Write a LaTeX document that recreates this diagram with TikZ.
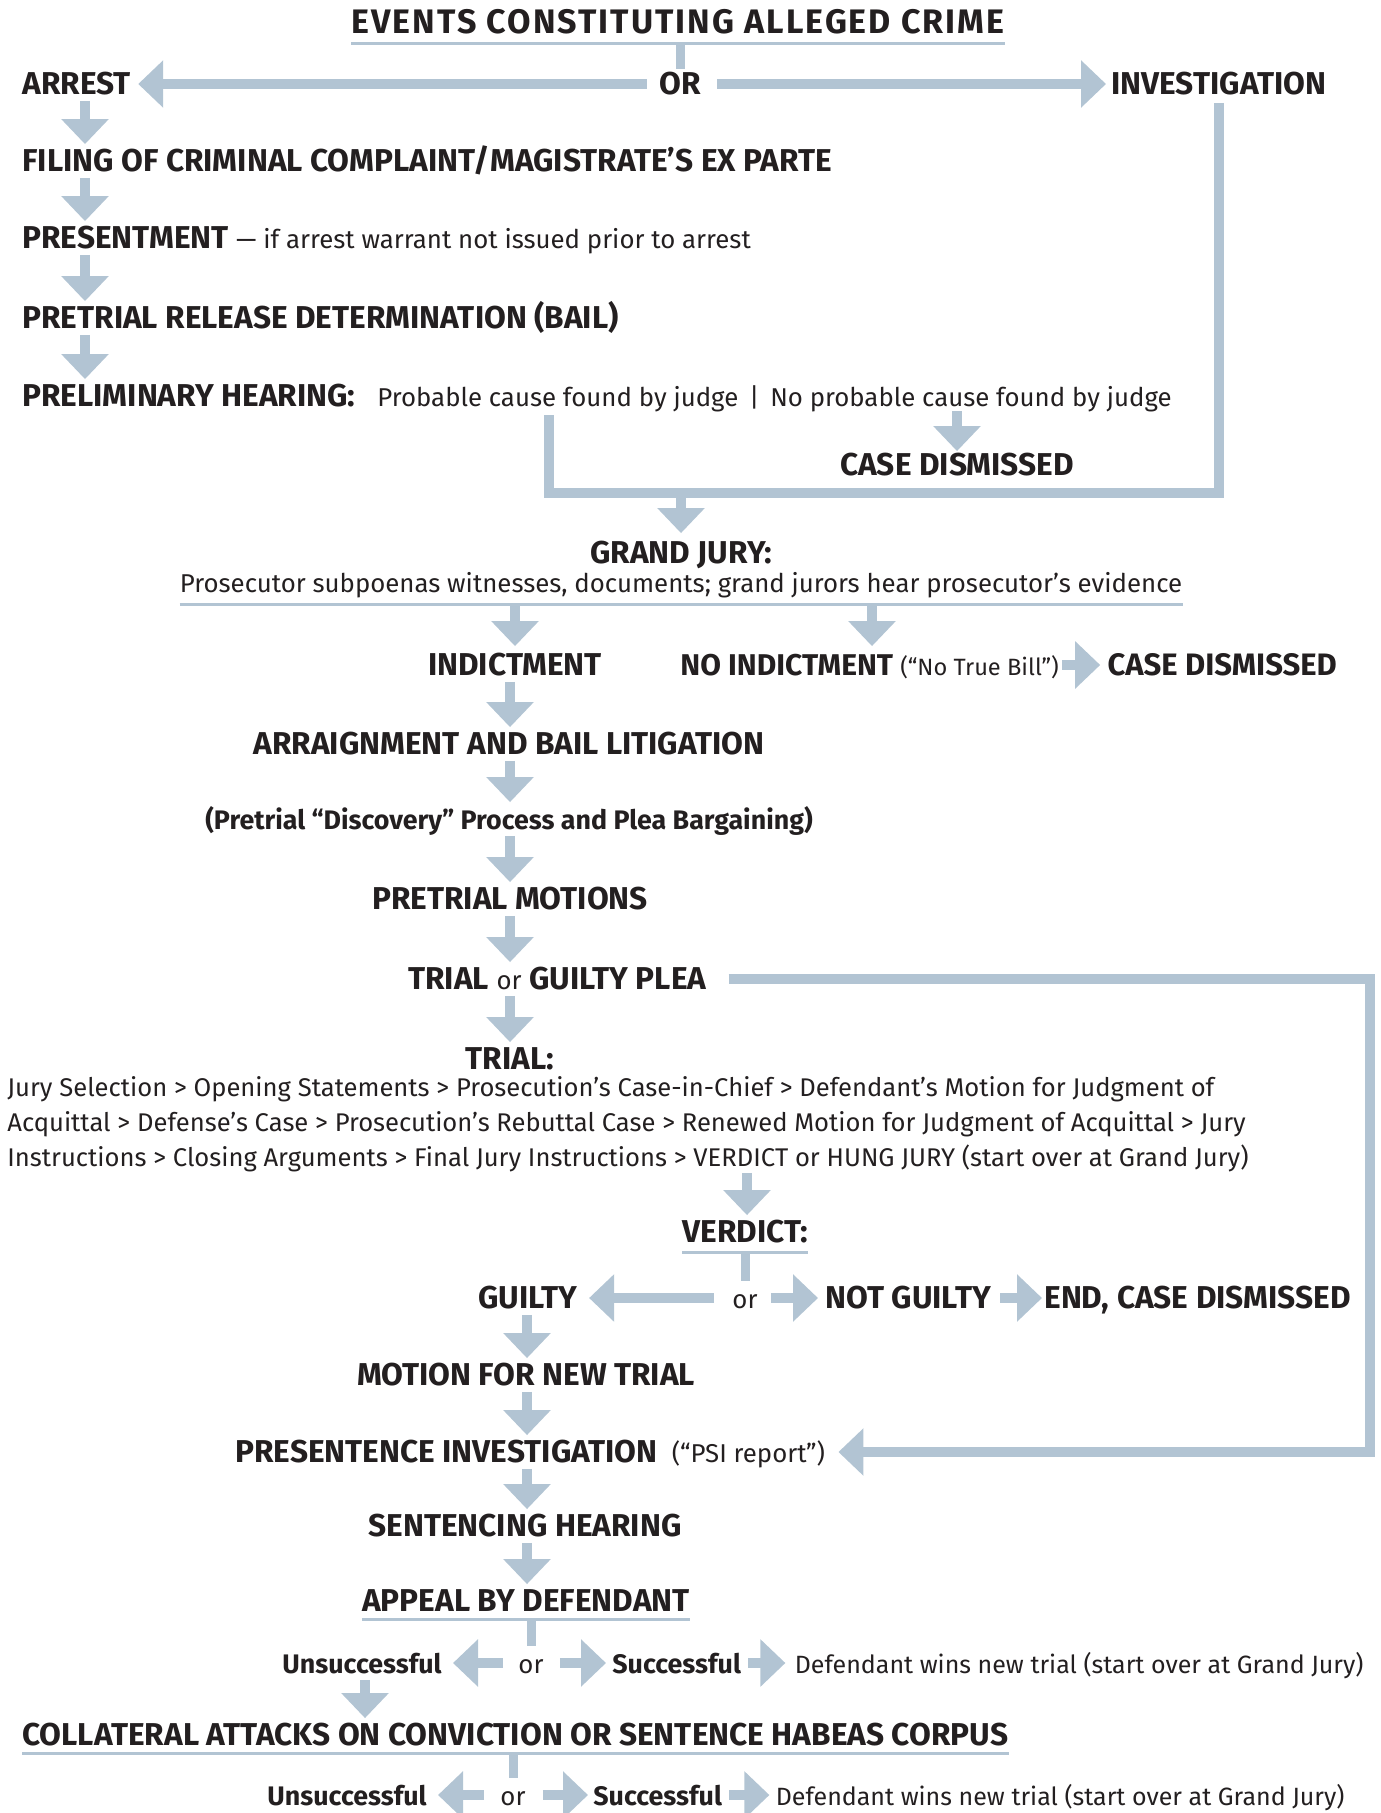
\documentclass[tikz,border=0pt]{standalone}
\usepackage{fontspec}
\setmainfont{Fira Sans}
\usetikzlibrary{arrows.meta,positioning}

\definecolor{pipeblue}{RGB}{178,196,211}
\definecolor{ink}{RGB}{35,31,32}
\newcommand{\regfont}{\mdseries\fontsize{12.9}{15}\selectfont}

\tikzset{
  bt/.style={font=\bfseries\fontsize{15.8}{18}\selectfont, text=ink, inner sep=0pt, text height=10.5pt, text depth=0pt},
  bm/.style={bt, font=\bfseries\fontsize{13.4}{16}\selectfont},
  rt/.style={font=\regfont, text=ink, inner sep=0pt, text height=10.5pt, text depth=0pt},
  headline/.style={bt, font=\bfseries\fontsize{17}{20}\selectfont\addfontfeatures{LetterSpace=6}},
  flow/.style={draw=pipeblue, line width=5.25pt, -{Triangle[length=12.5pt,width=23pt]}, shorten <=3pt, shorten >=3pt},
  pipe/.style={draw=pipeblue, line width=5pt},
  stem/.style={draw=pipeblue, line width=4.5pt},
  rule/.style={draw=pipeblue, line width=1.5pt},
}

\begin{document}
\begin{tikzpicture}[x=0.5pt,y=-0.5pt]
\useasboundingbox (0,0) rectangle (1380,1813);

% columns of the arrows
\coordinate (cA) at (85,0);
\coordinate (cB) at (681,0);
\coordinate (cC) at (510,0);
\coordinate (cD) at (527,0);
\coordinate (cE) at (957,0);
\coordinate (cF) at (872,0);
\coordinate (cG) at (747,0);
\coordinate (cH) at (365,0);
\coordinate (cI) at (549,493);
\coordinate (cJ) at (1370,0);

% top part
\node[headline] (title) at (678,23) {EVENTS CONSTITUTING ALLEGED CRIME};
\node[bt, anchor=west] (arrest) at (22,84) {ARREST};
\node[bt] (or) at (680,84) {OR};
\node[bt, anchor=west] (invest) at (1111,84) {INVESTIGATION};
\node[bt, anchor=west] (filing) at (22,161) {FILING OF CRIMINAL COMPLAINT/MAGISTRATE’S EX PARTE};
\node[bt, anchor=west] (present) at (22,238) {PRESENTMENT {\regfont — if arrest warrant not issued prior to arrest}};
\node[bt, anchor=west] (release) at (22,318) {PRETRIAL RELEASE DETERMINATION (BAIL)};
\node[bt, anchor=west] (prelim) at (22,396) {PRELIMINARY HEARING:};
\node[rt, anchor=west] (prob) at (377,396) {Probable cause found by judge};
\node[rt, right=5pt of prob] (bar) {|};
\node[rt, right=5pt of bar] (noprob) {No probable cause found by judge};
\node[bt] (dism1) at (957,465) {CASE DISMISSED};

\draw[rule] ([yshift=-5pt]title.south west) -- ([yshift=-5pt]title.south east);
\draw[stem] ([yshift=-5pt]title.south -| or) -- ([yshift=2pt]or.north);
\draw[flow, shorten <=6pt, shorten >=3.5pt] (or.west) -- (arrest.east);
\draw[flow, shorten <=8pt, shorten >=2.5pt] (or.east) -- (invest.west);
\foreach \a/\b in {arrest/filing, filing/present, present/release, release/prelim}
  \draw[flow] (\a.south -| cA) -- (\b.north -| cA);
\draw[flow, shorten <=2pt, shorten >=1.5pt] (noprob.south -| cE) -- (dism1.north -| cE);
\draw[pipe] ([yshift=-4pt]invest.south) |- (cI) -- ([yshift=-4pt]prob.south -| cI);

% grand jury
\node[bt] (gj) at (681,553) {GRAND JURY:};
\node[rt] (gjtext) at (681,582) {Prosecutor subpoenas witnesses, documents; grand jurors hear prosecutor’s evidence};
\node[bt] (indict) at (515,665) {INDICTMENT};
\node[bt, anchor=west, font=\bfseries\fontsize{15}{18}\selectfont] (noindict) at (680,665) {NO INDICTMENT {\mdseries\fontsize{11.8}{14}\selectfont (“No True Bill”)}};
\node[bt, right=24pt of noindict, font=\bfseries\fontsize{15.5}{18}\selectfont] (dism2) {CASE DISMISSED};

\draw[flow, shorten <=0pt, shorten >=4.5pt] (cB |- cI) -- (gj.north -| cB);
\draw[rule] ([yshift=-6pt]gjtext.south west) coordinate (gjl) -- ([yshift=-6pt]gjtext.south east);
\draw[flow, shorten <=0pt, shorten >=4pt] (gjl -| indict) -- (indict.north);
\draw[flow, shorten <=0pt, shorten >=4pt] (gjl -| cF) -- (noindict.north -| cF);
\draw[flow, shorten <=1.5pt, shorten >=3.5pt] (noindict.east) -- (dism2.west);

% pretrial
\node[bt] (arraign) at (509,744) {ARRAIGNMENT AND BAIL LITIGATION};
\node[bm] (disc) at (509,819) {(Pretrial “Discovery” Process and Plea Bargaining)};
\node[bt] (motions) at (510,899) {PRETRIAL MOTIONS};
\node[bt, anchor=west] (trialplea) at (408,979) {TRIAL {\regfont or} GUILTY PLEA};
\node[bt] (trial) at (510,1059) {TRIAL:};
\node[rt, anchor=west, font=\fontsize{12.8}{15}\selectfont] (jury1) at (7,1086) {Jury Selection > Opening Statements > Prosecution’s Case-in-Chief > Defendant’s Motion for Judgment of};
\node[rt, anchor=west, font=\fontsize{12.8}{15}\selectfont] (jury2) at (7,1121) {Acquittal > Defense’s Case > Prosecution’s Rebuttal Case > Renewed Motion for Judgment of Acquittal > Jury};
\node[rt, anchor=west, font=\fontsize{12.8}{15}\selectfont] (jury3) at (7,1156) {Instructions > Closing Arguments > Final Jury Instructions > VERDICT or HUNG JURY (start over at Grand Jury)};

\foreach \a/\b in {indict/arraign, arraign/disc, disc/motions, motions/trialplea, trialplea/trial}
  \draw[flow] (\a.south -| cC) -- (\b.north -| cC);

% verdict
\node[bt] (verdict) at (745,1232) {VERDICT:};
\node[bt, anchor=west] (guilty) at (478,1298) {GUILTY};
\node[rt] (vor) at (745,1298) {or};
\node[bt, anchor=west] (notguilty) at (825,1298) {NOT GUILTY};
\node[bt, anchor=west] (end) at (1044,1298) {END, CASE DISMISSED};

\draw[flow] (jury3.south -| cG) -- (verdict.north -| cG);
\draw[rule] ([yshift=-5pt]verdict.south west) -- ([yshift=-5pt]verdict.south east);
\draw[stem] ([yshift=-5pt]verdict.south) -- ([yshift=3pt]vor.north);
\draw[flow, shorten <=9pt, shorten >=5.5pt] (vor.west) -- (guilty.east);
\draw[flow, shorten <=6.5pt, shorten >=3.5pt] (vor.east) -- (notguilty.west);
\draw[flow, shorten <=4.5pt, shorten >=1pt] (notguilty.east) -- (end.west);

% sentence
\node[bt] (newtrial) at (526,1375) {MOTION FOR NEW TRIAL};
\node[bt, anchor=west] (psi) at (235,1452) {PRESENTENCE INVESTIGATION {\regfont\ (“PSI report”)}};
\node[bt] (sentencing) at (525,1526) {SENTENCING HEARING};
\node[bt] (appeal) at (526,1601) {APPEAL BY DEFENDANT};

\draw[flow] (guilty.south -| cD) -- (newtrial.north -| cD);
\foreach \a/\b in {newtrial/psi, psi/sentencing, sentencing/appeal}
  \draw[flow] (\a.south -| cD) -- (\b.north -| cD);
\draw[flow, shorten <=11pt, shorten >=6.5pt] (trialplea.east) -- (trialplea.east -| cJ) |- (psi.east);

% appeal
\node[bm, anchor=east] (unsucc1) at (442,1663) {Unsuccessful};
\node[rt] (aor1) at (531,1663) {or};
\node[bm, anchor=west] (succ1) at (612,1663) {Successful};
\node[rt, right=26.5pt of succ1, font=\fontsize{12.5}{15}\selectfont] (win1) {Defendant wins new trial (start over at Grand Jury)};
\node[bt, anchor=west] (collat) at (22,1735) {COLLATERAL ATTACKS ON CONVICTION OR SENTENCE HABEAS CORPUS};
\node[bm, anchor=east] (unsucc2) at (427,1795) {Unsuccessful};
\node[rt] (aor2) at (513,1795) {or};
\node[bm, anchor=west] (succ2) at (593,1795) {Successful};
\node[rt, right=26.5pt of succ2, font=\fontsize{12.5}{15}\selectfont] (win2) {Defendant wins new trial (start over at Grand Jury)};

\draw[rule] ([yshift=-4pt]appeal.south west) -- ([yshift=-4pt]appeal.south east);
\draw[stem] ([yshift=-4pt]appeal.south -| aor1) -- ([yshift=3pt]aor1.north);
\draw[flow, shorten <=7.5pt, shorten >=5.5pt] (aor1.west) -- (unsucc1.east);
\draw[flow, shorten <=8pt, shorten >=3pt] (aor1.east) -- (succ1.west);
\draw[flow, shorten <=3.5pt, shorten >=4.5pt] (succ1.east) -- (win1.west);
\draw[flow] (unsucc1.south -| cH) -- (collat.north -| cH);

\draw[rule] ([yshift=-4pt]collat.south west) -- ([yshift=-4pt]collat.south east);
\draw[stem] ([yshift=-4pt]collat.south -| aor2) -- ([yshift=3pt]aor2.north);
\draw[flow, shorten <=8pt, shorten >=5.5pt] (aor2.west) -- (unsucc2.east);
\draw[flow, shorten <=8.5pt, shorten >=2.5pt] (aor2.east) -- (succ2.west);
\draw[flow, shorten <=3.5pt, shorten >=3pt] (succ2.east) -- (win2.west);
\end{tikzpicture}
\end{document}
